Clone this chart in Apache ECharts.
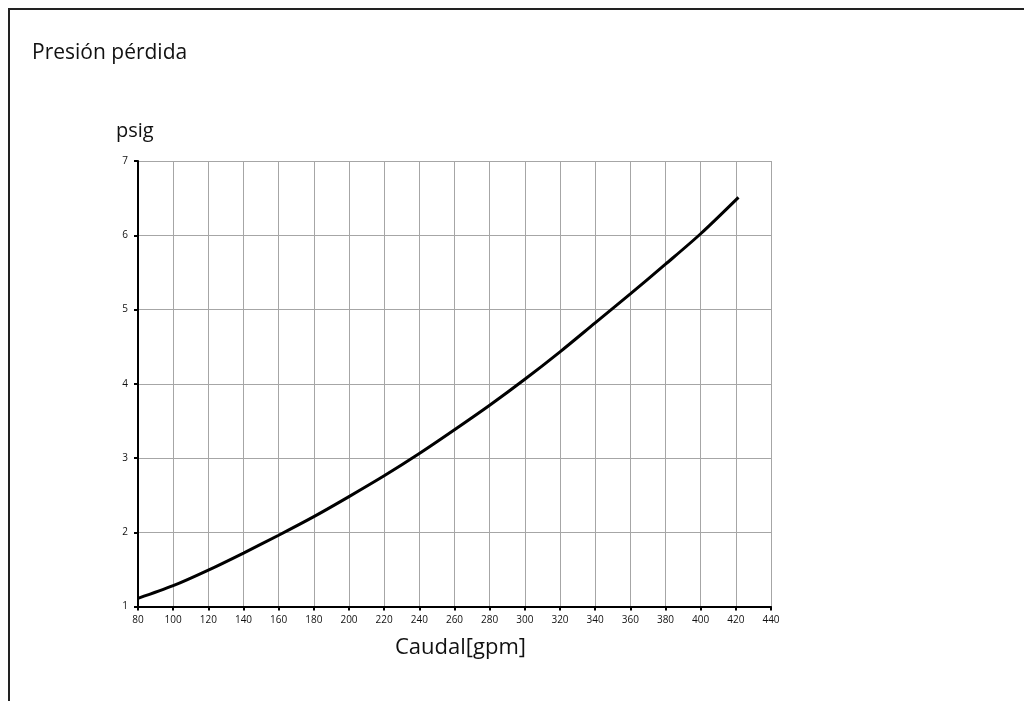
<!DOCTYPE html>
<html><head><meta charset="utf-8">
<script src="https://cdn.jsdelivr.net/npm/echarts@6/dist/echarts.min.js"></script>
<style>html,body{margin:0;padding:0;background:#fff}#c{width:1024px;height:701px}</style>
</head><body><div id="c"></div>
<script>
const flowGpm = [80,100,120,140,160,180,200,220,240,260,280,300,320,340,360,380,400,421.5];
const pressurePsig = [1.11,1.28,1.49,1.72,1.96,2.21,2.48,2.76,3.06,3.38,3.71,4.06,4.43,4.82,5.21,5.61,6.02,6.51];
const titleText = 'Presión pérdida';
const yName = 'psig';
const xName = 'Caudal[gpm]';

const chart = echarts.init(document.getElementById('c'), null, {renderer:'canvas'});
const font = '"Open Sans", "Noto Sans", sans-serif';
chart.setOption({
  animation:false,
  backgroundColor:'#fff',
  textStyle:{fontFamily:font},
  graphic:[
    {type:'rect', shape:{x:9,y:9,width:1100,height:800}, style:{fill:'none', stroke:'#222', lineWidth:2}, silent:true, z:-1},
    {type:'text', left:32, top:43, style:{text:titleText, font:'21px ' + font, fill:'#111'}},
    {type:'text', left:116, top:121, style:{text:yName, font:'20px ' + font, fill:'#111'}}
  ],
  grid:{left:138, top:161, right:253, bottom:94.5, containLabel:false, show:false},
  xAxis:{
    type:'value', min:80, max:440, interval:20,
    name:xName, nameLocation:'middle', nameGap:30,
    nameTextStyle:{fontSize:22, color:'#111', fontFamily:font, padding:[0,0,0,12]},
    axisLine:{show:true, onZero:false, lineStyle:{color:'#000', width:2}},
    axisTick:{show:true, length:4, lineStyle:{color:'#000', width:2}},
    axisLabel:{fontSize:10, color:'#111', margin:9, fontFamily:font},
    splitLine:{show:true, lineStyle:{color:'#a6a6a6', width:1}}
  },
  yAxis:{
    type:'value', min:1, max:7, interval:1,
    axisLine:{show:true, onZero:false, lineStyle:{color:'#000', width:2}},
    axisTick:{show:true, length:4, lineStyle:{color:'#000', width:2}},
    axisLabel:{fontSize:10, color:'#111', margin:10, fontFamily:font},
    splitLine:{show:true, lineStyle:{color:'#a6a6a6', width:1}}
  },
  series:[{
    type:'line', smooth:0.3, symbol:'none',
    data: flowGpm.map((x,i)=>[x, pressurePsig[i]]),
    lineStyle:{color:'#000', width:3}
  }]
});
</script></body></html>
